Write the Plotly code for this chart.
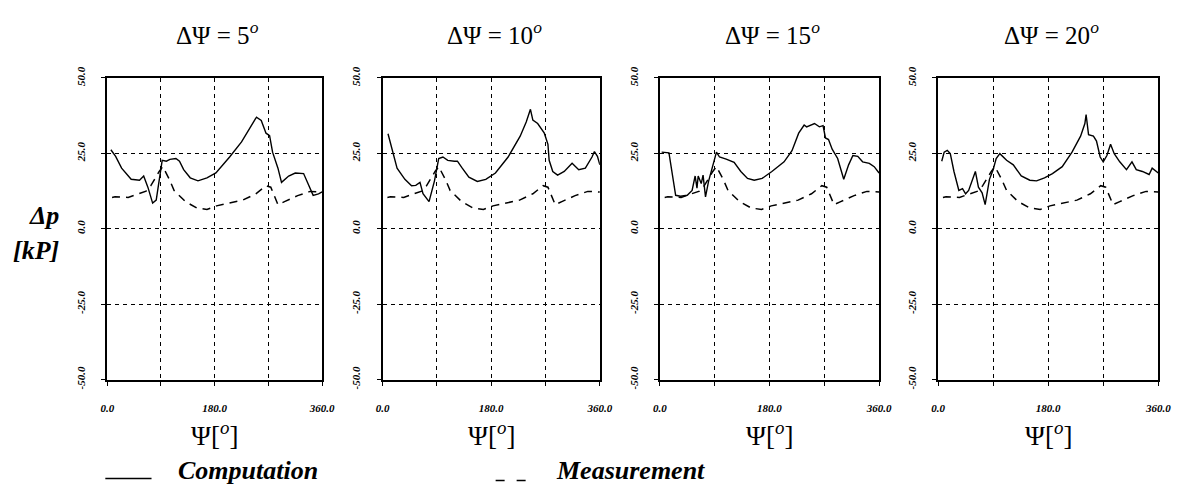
import plotly.graph_objects as go

# Rotor angle positions [deg] and pressure difference [kP]
panel_titles = ["ΔΨ = 5<sup><i>o</i></sup>", "ΔΨ = 10<sup><i>o</i></sup>",
                "ΔΨ = 15<sup><i>o</i></sup>", "ΔΨ = 20<sup><i>o</i></sup>"]

# Measurement (same experiment shown in every panel)
psi_meas = [8, 13, 35, 51, 65, 73, 82, 87, 93, 104, 112, 131, 150, 167, 183,
            205, 227, 249, 266, 274, 280, 286, 297, 319, 340, 360]
dp_meas = [10.4, 10.6, 10.4, 11.6, 12.5, 14.3, 17.5, 19.0, 20.6, 16.4, 12.7,
           9.0, 6.9, 6.4, 7.6, 8.5, 9.5, 11.6, 14.3, 13.8, 11.1, 8.0, 9.0,
           11.0, 12.4, 12.2]

# Computation, step 5 deg
psi_c5 = [6, 14, 24, 40, 54, 61, 68, 76, 82, 87, 92, 99, 105, 115, 121, 128,
          139, 152, 167, 182, 205, 225, 238, 250, 258, 266, 272, 277, 286,
          292, 304, 315, 329, 340, 345, 354, 360]
dp_c5 = [26.2, 24.0, 20.1, 16.4, 16.1, 17.5, 13.8, 8.5, 9.5, 15.9, 22.7, 22.4,
         23.0, 23.3, 22.4, 19.6, 16.9, 15.9, 16.9, 18.5, 23.8, 28.8, 33.3,
         37.0, 35.9, 31.7, 30.9, 25.4, 20.1, 15.4, 17.5, 18.5, 18.3, 13.2,
         11.1, 11.6, 12.2]

# Computation, step 10 deg
psi_c10 = [9, 13, 24, 37, 48, 55, 62, 67, 77, 86, 93, 100, 108, 119, 124, 132,
           143, 157, 171, 187, 208, 228, 238, 245, 249, 257, 268, 274, 276,
           282, 290, 301, 314, 325, 336, 347, 351, 356, 360]
dp_c10 = [31.5, 28.5, 20.1, 16.4, 14.3, 14.4, 15.4, 11.6, 9.0, 15.9, 23.3,
          23.8, 22.7, 22.4, 22.4, 20.1, 17.1, 15.7, 16.4, 18.5, 23.8, 30.7,
          35.4, 39.6, 36.0, 34.9, 31.7, 28.0, 22.7, 19.0, 17.8, 19.0, 21.7,
          19.6, 20.1, 23.8, 25.6, 24.0, 21.2]

# Computation, step 15 deg
psi_c15 = [3, 15, 26, 34, 45, 53, 58, 61, 63, 68, 71, 75, 80, 85, 89, 93, 98,
           109, 122, 133, 144, 155, 168, 184, 204, 217, 228, 237, 241, 254,
           262, 268, 272, 277, 283, 292, 302, 310, 317, 325, 333, 344, 352,
           360]
dp_c15 = [25.4, 25.2, 11.1, 10.8, 11.1, 12.7, 17.5, 13.5, 17.5, 15.0, 17.8,
          10.6, 15.7, 19.6, 22.0, 25.4, 23.8, 23.1, 22.0, 19.0, 16.7, 16.1,
          16.7, 19.0, 22.2, 25.9, 31.7, 34.4, 33.8, 34.9, 33.8, 34.2, 30.1,
          29.6, 26.4, 23.3, 16.4, 21.2, 24.3, 24.0, 22.2, 21.7, 20.6, 18.5]

# Computation, step 20 deg
psi_c20 = [6, 10, 15, 20, 26, 34, 40, 45, 50, 56, 61, 66, 72, 77, 84, 90, 95,
           101, 112, 123, 136, 150, 161, 174, 187, 203, 219, 233, 240, 242,
           246, 254, 259, 265, 270, 276, 282, 288, 297, 308, 317, 324, 334,
           345, 350, 360]
dp_c20 = [22.4, 25.4, 26.0, 24.9, 19.0, 12.7, 13.3, 11.6, 12.7, 16.4, 19.0,
          13.8, 11.9, 8.0, 16.4, 19.6, 23.3, 24.9, 22.7, 21.2, 17.5, 16.1,
          15.9, 16.9, 18.3, 20.6, 25.4, 30.7, 34.9, 37.9, 31.2, 30.7, 29.1,
          23.8, 22.2, 24.3, 28.0, 24.9, 22.2, 19.6, 22.2, 19.6, 19.0, 18.0,
          20.1, 18.5]

computations = [(psi_c5, dp_c5), (psi_c10, dp_c10),
                (psi_c15, dp_c15), (psi_c20, dp_c20)]

x_tickvals = [0, 90, 180, 270, 360]
x_ticktext = ["0.0", "", "180.0", "", "360.0"]
y_tickvals = [-50, -25, 0, 25, 50]
y_ticktext = ["-50.0", "-25.0", "0.0", "25.0", "50.0"]

W, H = 1188, 501
panel_px = [(102, 320.5), (382, 603), (664, 887), (947, 1171)]
top_px, bottom_px = 69, 384.5

SERIF = "Liberation Serif"
fig = go.Figure()

for i, (psi_c, dp_c) in enumerate(computations):
    ax = "" if i == 0 else str(i + 1)
    fig.add_trace(go.Scatter(
        x=psi_meas, y=dp_meas, mode="lines", xaxis="x" + ax, yaxis="y" + ax,
        line=dict(color="black", width=1.5, dash="8px,6px"),
        showlegend=False, hoverinfo="skip"))
    fig.add_trace(go.Scatter(
        x=psi_c, y=dp_c, mode="lines", xaxis="x" + ax, yaxis="y" + ax,
        line=dict(color="black", width=1.4),
        showlegend=False, hoverinfo="skip"))

    x0, x1 = panel_px[i]
    tickfont = dict(family=SERIF, size=11, color="black",
                    style="italic", weight="bold")
    fig.update_layout({
        "xaxis" + ax: dict(
            domain=[x0 / W, x1 / W], range=[0, 360], anchor="y" + ax,
            tickvals=x_tickvals, ticktext=x_ticktext, tickfont=tickfont,
            ticks="outside", ticklen=4, tickcolor="black", tickwidth=1.2,
            ticklabelstandoff=13,
            showline=True, linecolor="black", linewidth=1.8, mirror=True,
            showgrid=True, gridcolor="black", gridwidth=1.2,
            griddash="4px,4px", zeroline=False, fixedrange=True),
        "yaxis" + ax: dict(
            domain=[1 - bottom_px / H, 1 - top_px / H], range=[-50, 50],
            anchor="x" + ax,
            tickvals=y_tickvals, ticktext=y_ticktext, tickfont=tickfont,
            tickangle=-90, ticks="outside", ticklen=4, tickcolor="black",
            tickwidth=1.2, ticklabelstandoff=12,
            showline=True, linecolor="black", linewidth=1.8, mirror=True,
            showgrid=True, gridcolor="black", gridwidth=1.2,
            griddash="4px,4px", zeroline=False, fixedrange=True),
    })

    cx = (x0 + x1) / 2 / W
    fig.add_annotation(
        text=panel_titles[i], x=cx + 3 / W, y=1 - 22 / H,
        xref="paper", yref="paper", showarrow=False,
        xanchor="center", yanchor="middle",
        font=dict(family=SERIF, size=25, color="black"))
    fig.add_annotation(
        text="Ψ[<sup><i>o</i></sup>]", x=cx, y=1 - 441 / H,
        xref="paper", yref="paper", showarrow=False,
        xanchor="center", yanchor="middle",
        font=dict(family=SERIF, size=27, color="black"))

# y-axis label
fig.add_annotation(text="Δp", x=38 / W, y=1 - 213 / H, xref="paper",
                   yref="paper", showarrow=False, xanchor="center",
                   yanchor="middle",
                   font=dict(family=SERIF, size=26, color="black",
                             style="italic", weight="bold"))
fig.add_annotation(text="[kP]", x=30 / W, y=1 - 249 / H, xref="paper",
                   yref="paper", showarrow=False, xanchor="center",
                   yanchor="middle",
                   font=dict(family=SERIF, size=26, color="black",
                             style="italic", weight="bold"))

# legend keys
fig.add_shape(type="line", xref="paper", yref="paper",
              x0=100 / W, x1=147 / W, y0=1 - 488 / H, y1=1 - 488 / H,
              line=dict(color="black", width=1.4))
fig.add_shape(type="line", xref="paper", yref="paper",
              x0=497 / W, x1=531 / W, y0=1 - 490 / H, y1=1 - 490 / H,
              line=dict(color="black", width=1.5, dash="9px,12px"))
fig.add_annotation(text="Computation", x=172 / W, y=1 - 480 / H,
                   xref="paper", yref="paper", showarrow=False,
                   xanchor="left", yanchor="middle",
                   font=dict(family=SERIF, size=26, color="black",
                             style="italic", weight="bold"))
fig.add_annotation(text="Measurement", x=556 / W, y=1 - 480 / H,
                   xref="paper", yref="paper", showarrow=False,
                   xanchor="left", yanchor="middle",
                   font=dict(family=SERIF, size=26, color="black",
                             style="italic", weight="bold"))

fig.update_layout(
    width=W, height=H, margin=dict(l=0, r=0, t=0, b=0),
    paper_bgcolor="white", plot_bgcolor="white", showlegend=False)

fig.write_html("out.html")
